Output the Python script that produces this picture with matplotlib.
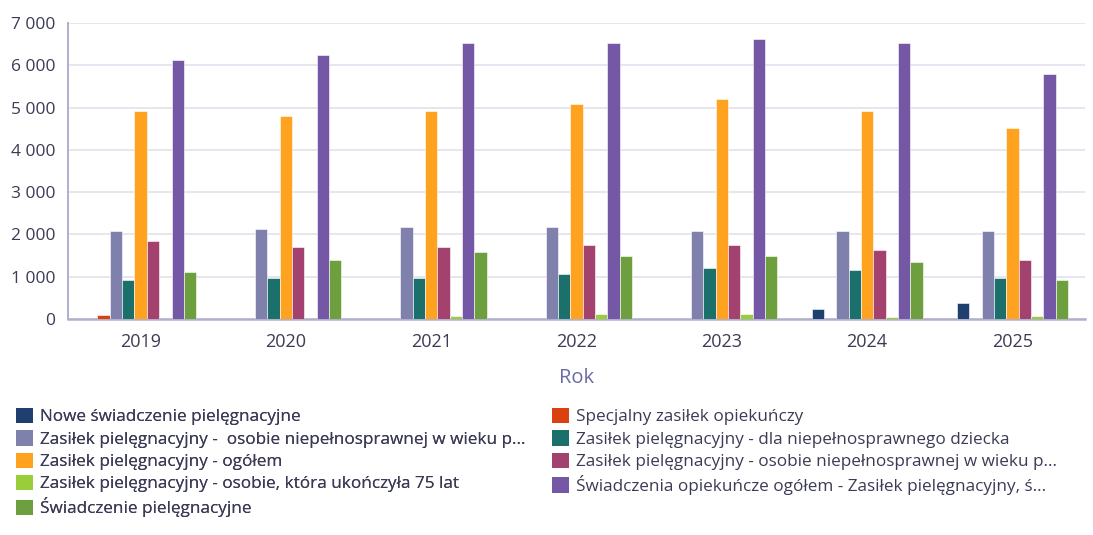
import matplotlib
matplotlib.use("Agg")
import matplotlib.pyplot as plt
import numpy as np
from matplotlib.patches import Patch
from matplotlib.ticker import FuncFormatter

plt.rcParams['font.family'] = ['Open Sans', 'DejaVu Sans']

years = ["2019", "2020", "2021", "2022", "2023", "2024", "2025"]

series_names = [
    "Nowe świadczenie pielęgnacyjne",
    "Specjalny zasiłek opiekuńczy",
    "Zasiłek pielęgnacyjny -  osobie niepełnosprawnej w wieku p...",
    "Zasiłek pielęgnacyjny - dla niepełnosprawnego dziecka",
    "Zasiłek pielęgnacyjny - ogółem",
    "Zasiłek pielęgnacyjny - osobie niepełnosprawnej w wieku p...",
    "Zasiłek pielęgnacyjny - osobie, która ukończyła 75 lat",
    "Świadczenia opiekuńcze ogółem - Zasiłek pielęgnacyjny, ś...",
    "Świadczenie pielęgnacyjne",
]

nowe = [0, 0, 0, 0, 0, 246, 388]
specjalny = [104, 0, 0, 0, 0, 0, 0]
zp_wiek_a = [2083, 2124, 2178, 2178, 2083, 2083, 2083]
zp_dziecko = [933, 980, 980, 1075, 1217, 1170, 980]
zp_ogolem = [4924, 4800, 4920, 5080, 5200, 4920, 4520]
zp_wiek_b = [1847, 1714, 1714, 1761, 1761, 1626, 1397]
zp_75 = [0, 0, 64, 111, 111, 57, 64]
opiekuncze_ogolem = [6117, 6240, 6530, 6530, 6620, 6530, 5800]
sw_pielegnacyjne = [1113, 1390, 1579, 1485, 1484, 1350, 933]

values = [nowe, specjalny, zp_wiek_a, zp_dziecko, zp_ogolem, zp_wiek_b, zp_75,
          opiekuncze_ogolem, sw_pielegnacyjne]

colors = ["#1f3f6e", "#d9420f", "#8080ad", "#1b706b", "#ffa21f",
          "#a4426f", "#9acd3a", "#7457a5", "#6e9f3e"]

fig = plt.figure(figsize=(10.93, 5.35), dpi=100)
ax = fig.add_axes([0.0622, 0.4037, 0.9305, 0.5533])

n = len(values)
slot = 0.085
x = np.arange(len(years))
for i, (vals, c) in enumerate(zip(values, colors)):
    offs = (i - (n - 1) / 2) * slot
    ax.bar(x + offs, vals, width=slot, color=c, edgecolor="white",
           linewidth=0.4, zorder=3)

ax.set_xlim(-0.5, len(years) - 0.5)
ax.set_ylim(0, 7000)
ax.set_yticks(np.arange(0, 7001, 1000))
ax.yaxis.set_major_formatter(FuncFormatter(lambda v, p: f"{int(v):,}".replace(",", " ")))
ax.set_xticks(x)
ax.set_xticklabels(years)
ax.tick_params(axis="both", length=0, colors="#3b3b55")
ax.tick_params(axis="x", pad=10, labelsize=13)
ax.tick_params(axis="y", pad=9, labelsize=12.5)
ax.grid(axis="y", color="#e2e2ee", linewidth=1.2, zorder=0)
ax.set_axisbelow(True)
for s in ["top", "right"]:
    ax.spines[s].set_visible(False)
ax.spines["left"].set_color("#a8a8cc")
ax.spines["left"].set_linewidth(1.3)
ax.spines["bottom"].set_color("#b0b0cc")
ax.spines["bottom"].set_linewidth(1.8)
ax.set_xlabel("Rok", fontsize=14.5, color="#6a6aa8", labelpad=12)

left_idx = [0, 2, 4, 6, 8]
right_idx = [1, 3, 5, 7]
common = dict(frameon=False, fontsize=12.3, labelcolor="#3b3b55", handlelength=1.0,
              handleheight=1.0, handletextpad=0.4, labelspacing=0.28,
              borderaxespad=0, borderpad=0, loc="upper left")
W, H = 1093.0, 535.0
leg1 = fig.legend([Patch(facecolor=colors[i]) for i in left_idx],
                  [series_names[i] for i in left_idx],
                  bbox_to_anchor=(16 / W, 1 - 408 / H), **common)
fig.add_artist(leg1)
leg2 = fig.legend([Patch(facecolor=colors[i]) for i in right_idx],
                  [series_names[i] for i in right_idx],
                  bbox_to_anchor=(552 / W, 1 - 408 / H), **common)

fig.savefig("out.png", dpi=100)
